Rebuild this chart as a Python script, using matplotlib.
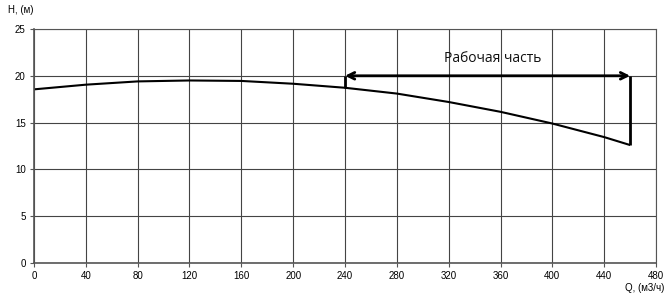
import matplotlib
matplotlib.use('Agg')
import matplotlib.pyplot as plt
import numpy as np

# pump curve H(Q)
q = [0, 40, 80, 120, 160, 200, 240, 280, 320, 360, 400, 440, 460]
h = [18.55, 19.05, 19.4, 19.5, 19.45, 19.15, 18.72, 18.1, 17.2, 16.15, 14.9, 13.45, 12.6]

# working range marker
work_q = [240, 460]
work_h = 20
work_label = 'Рабочая часть'

xticks = list(range(0, 481, 40))
yticks = list(range(0, 26, 5))

plt.rcParams['font.family'] = ['Liberation Sans', 'DejaVu Sans']

fig = plt.figure(figsize=(6.69, 2.97), dpi=100)
ax = fig.add_axes([0.0508, 0.1145, 0.9298, 0.7879])

ax.plot(q, h, color='black', lw=1.5, solid_capstyle='butt', solid_joinstyle='round')

# vertical bars at the ends of the working range
for qq in work_q:
    hh = np.interp(qq, q, h)
    ax.plot([qq, qq], [hh, work_h], color='black', lw=2, solid_capstyle='butt')

ax.annotate('', xy=(work_q[0], work_h), xytext=(work_q[1], work_h),
            arrowprops=dict(arrowstyle='<->', color='black', lw=2,
                            mutation_scale=12, shrinkA=0, shrinkB=0))
ax.text(354, 21.9, work_label, ha='center', va='center',
        fontsize=10, family=['Open Sans', 'DejaVu Sans'], color='#111111')

ax.set_xlim(0, 480)
ax.set_ylim(0, 25)
ax.set_xticks(xticks)
ax.set_yticks(yticks)
ax.tick_params(labelsize=7, length=3, width=0.8, color='#555555', pad=3)
ax.grid(True, color='#444444', lw=0.8)
for s in ax.spines.values():
    s.set_color('#555555')
    s.set_linewidth(0.8)
ax.spines['left'].set_linewidth(1.2)
ax.spines['bottom'].set_linewidth(1.2)

fig.text(8 / 669, 1 - 10 / 297, 'H, (м)', fontsize=7, ha='left', va='center')
fig.text(664 / 669, 1 - 288 / 297, 'Q, (м3/ч)', fontsize=7, ha='right', va='center')

plt.savefig('out.png', dpi=100)
